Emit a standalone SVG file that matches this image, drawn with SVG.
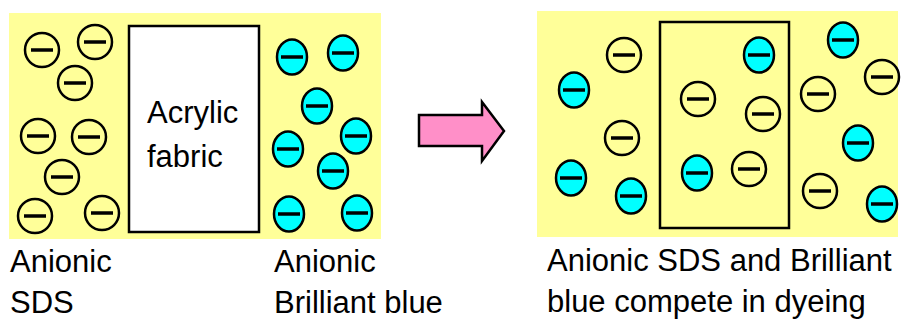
<svg xmlns="http://www.w3.org/2000/svg" xmlns:xlink="http://www.w3.org/1999/xlink" width="902" height="324" viewBox="0 0 902 324">
<style>
.panel{fill:#FFFF99;stroke:none}
.box{stroke:#000;stroke-width:2.5}
.ion-y{fill:#FFFF99;stroke:#000;stroke-width:2.5}
.ion-b{fill:#00FFFF;stroke:#000;stroke-width:2.5}
.bar{stroke:#000;stroke-width:3.5}
.lbl{font-family:"Liberation Sans",Arial,sans-serif;font-size:31px;fill:#000}
</style>
<defs>
<g id="sds"><circle class="ion-y" cx="0" cy="0" r="17"/><line class="bar" x1="-11" y1="0" x2="11" y2="0"/></g>
<g id="bb"><ellipse class="ion-b" cx="0" cy="0" rx="15" ry="17.5"/><line class="bar" x1="-11" y1="0" x2="11" y2="0"/></g>
</defs>
<rect width="902" height="324" fill="#fff"/>
<g id="left-panel">
<rect class="panel" x="9" y="13" width="372" height="226"/>
<rect class="box" x="129" y="26" width="130" height="206" fill="#fff"/>
<text class="lbl" x="147" y="123">Acrylic</text>
<text class="lbl" x="147" y="167">fabric</text>
</g>
<g id="left-sds">
<use xlink:href="#sds" x="42" y="50"/>
<use xlink:href="#sds" x="95" y="42"/>
<use xlink:href="#sds" x="75" y="83"/>
<use xlink:href="#sds" x="38" y="136"/>
<use xlink:href="#sds" x="89" y="137"/>
<use xlink:href="#sds" x="62" y="177"/>
<use xlink:href="#sds" x="35" y="216"/>
<use xlink:href="#sds" x="102" y="213"/>
</g>
<g id="left-bb">
<use xlink:href="#bb" x="292" y="57"/>
<use xlink:href="#bb" x="343" y="53"/>
<use xlink:href="#bb" x="317" y="106"/>
<use xlink:href="#bb" x="356" y="136"/>
<use xlink:href="#bb" x="288" y="149"/>
<use xlink:href="#bb" x="333" y="171"/>
<use xlink:href="#bb" x="289" y="214"/>
<use xlink:href="#bb" x="357" y="213"/>
</g>
<g id="connectors">
<path d="M419 115 H482 V102 L504 131 L482 161 V146 H419 Z" fill="#FF8FC8" stroke="#000" stroke-width="2.5" stroke-linejoin="miter"/>
</g>
<g id="right-panel">
<rect class="panel" x="537" y="11" width="361" height="226"/>
<rect class="box" x="660" y="22" width="129" height="206" fill="none"/>
</g>
<g id="right-sds">
<use xlink:href="#sds" x="624" y="55"/>
<use xlink:href="#sds" x="622" y="138"/>
<use xlink:href="#sds" x="698" y="99"/>
<use xlink:href="#sds" x="763" y="114"/>
<use xlink:href="#sds" x="749" y="169"/>
<use xlink:href="#sds" x="818" y="94"/>
<use xlink:href="#sds" x="882" y="77"/>
<use xlink:href="#sds" x="820" y="191"/>
</g>
<g id="right-bb">
<use xlink:href="#bb" x="574" y="90"/>
<use xlink:href="#bb" x="571" y="178"/>
<use xlink:href="#bb" x="631" y="196"/>
<use xlink:href="#bb" x="759" y="55"/>
<use xlink:href="#bb" x="697" y="173"/>
<use xlink:href="#bb" x="843" y="40"/>
<use xlink:href="#bb" x="858" y="143"/>
<use xlink:href="#bb" x="882" y="204"/>
</g>
<g id="labels">
<text class="lbl" x="10" y="272">Anionic</text>
<text class="lbl" x="10" y="313">SDS</text>
<text class="lbl" x="274" y="272">Anionic</text>
<text class="lbl" x="274" y="313">Brilliant blue</text>
<text class="lbl" x="547" y="271">Anionic SDS and Brilliant</text>
<text class="lbl" x="547" y="312">blue compete in dyeing</text>
</g>
</svg>
